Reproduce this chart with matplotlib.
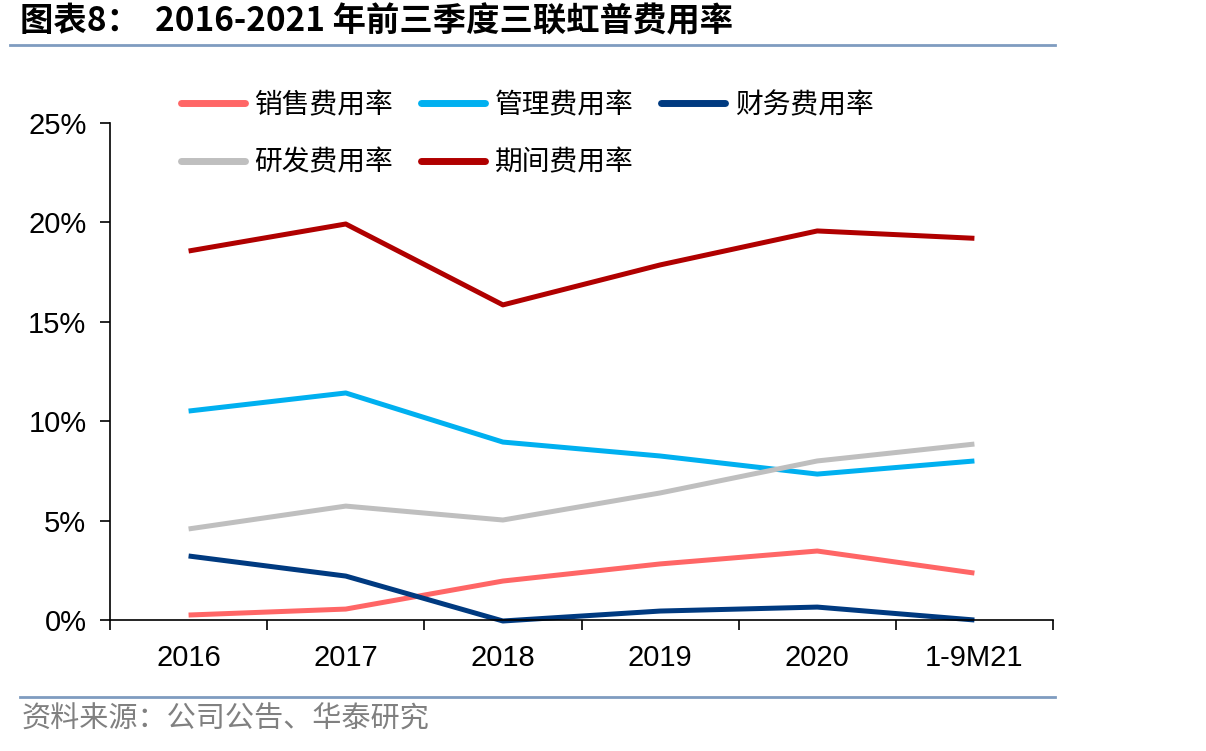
import matplotlib
matplotlib.use("Agg")
import matplotlib.pyplot as plt
from matplotlib.lines import Line2D

plt.rcParams['font.family'] = ['Liberation Sans', 'Noto Sans CJK SC', 'DejaVu Sans']

categories = ['2016', '2017', '2018', '2019', '2020', '1-9M21']
sales = [0.25, 0.55, 1.96, 2.82, 3.47, 2.36]
admin = [10.51, 11.42, 8.95, 8.25, 7.34, 8.00]
finance = [3.22, 2.21, -0.05, 0.45, 0.65, 0.00]
rnd = [4.58, 5.73, 5.03, 6.39, 8.00, 8.85]
period = [18.56, 19.92, 15.85, 17.86, 19.57, 19.20]
yticks = [0, 5, 10, 15, 20, 25]
ytick_labels = ['0%', '5%', '10%', '15%', '20%', '25%']

series = [
    ('销售费用率', sales, '#FF6666'),
    ('管理费用率', admin, '#00B0F0'),
    ('财务费用率', finance, '#003A80'),
    ('研发费用率', rnd, '#BFBFBF'),
    ('期间费用率', period, '#B00000'),
]

fig = plt.figure(figsize=(12.06, 7.51), dpi=100)
ax = fig.add_axes([110/1206, 1-620/751, (1053-110)/1206, (620-123)/751])

x = list(range(len(categories)))
for name, vals, col in series:
    ax.plot(x, vals, color=col, lw=3.6, solid_joinstyle='round',
            solid_capstyle='butt', clip_on=False, label=name)

ax.set_xlim(-0.5, len(categories)-0.5)
ax.set_ylim(0, 25)
ax.set_yticks(yticks)
ax.set_yticklabels(ytick_labels, fontsize=21)
ax.set_xticks(x)
ax.set_xticklabels(categories, fontsize=21)
ax.tick_params(axis='x', which='major', length=0, pad=17)
ax.set_xticks([i-0.5 for i in range(len(categories)+1)], minor=True)
ax.tick_params(axis='x', which='minor', length=7, width=1.2, direction='out')
ax.tick_params(axis='y', length=7, width=1.2, direction='out', pad=10)
for s in ['top', 'right']:
    ax.spines[s].set_visible(False)
for s in ['left', 'bottom']:
    ax.spines[s].set_linewidth(1.2)
    ax.spines[s].set_color('black')

# row-wise legend order for a 2-row, 3-column layout
order = [0, 3, 1, 4, 2]
leg_handles = [Line2D([0], [0], color=series[i][2], lw=5, solid_capstyle='round') for i in order]
leg_labels = [series[i][0] for i in order]
fig.legend(leg_handles, leg_labels, ncol=3,
           loc='upper left', bbox_to_anchor=(156/1206, 1-65/751),
           frameon=False, prop={'family': 'Noto Sans CJK SC', 'size': 20},
           handlelength=2.3, handletextpad=0.35, columnspacing=1.0,
           labelspacing=1.0)

fig.text(20/1206, 1-22/751, '图表8：  2016-2021 年前三季度三联虹普费用率',
         fontsize=24, fontweight='bold', family='Noto Sans CJK SC',
         va='center', ha='left')
fig.add_artist(Line2D([10/1206, 1055/1206], [1-45/751, 1-45/751],
                      color='#7F9CC0', lw=2))
fig.add_artist(Line2D([20/1206, 1055/1206], [1-697/751, 1-697/751],
                      color='#7F9CC0', lw=2))
fig.text(22/1206, 1-720/751, '资料来源：公司公告、华泰研究', fontsize=21,
         color='#808080', family='Noto Sans CJK SC', va='center', ha='left')

fig.savefig('out.png', dpi=100)
